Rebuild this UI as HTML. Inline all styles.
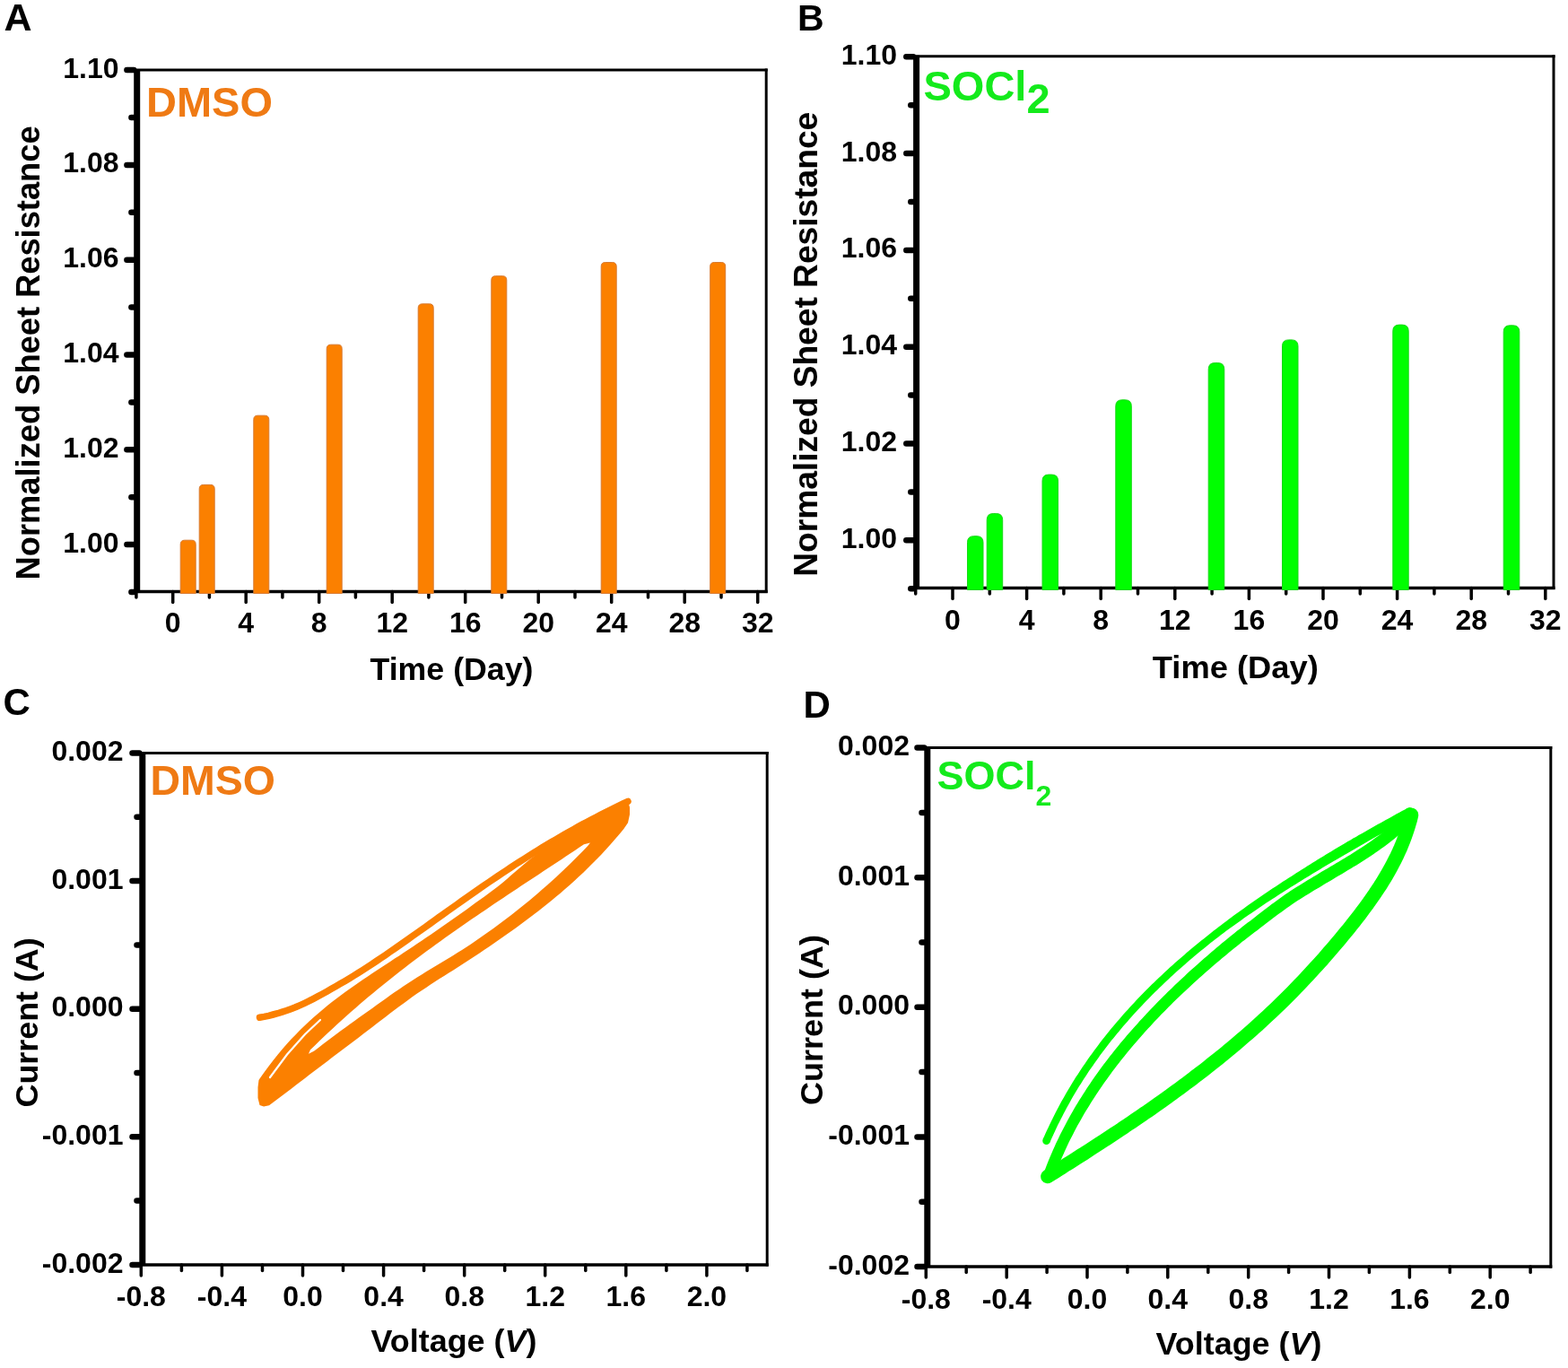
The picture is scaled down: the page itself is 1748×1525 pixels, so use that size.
<!DOCTYPE html>
<html><head><meta charset="utf-8"><title>Figure</title>
<style>html,body{margin:0;padding:0;background:#fff;overflow:hidden;} svg{display:block;}</style>
</head><body>
<svg width="1748" height="1525" viewBox="0 0 1748 1525" font-family="'Liberation Sans', Arial, Helvetica, sans-serif" font-weight="bold">
<rect width="1748" height="1525" fill="#fff"/>
<text x="4.5" y="34.0" font-size="43" text-anchor="start" fill="#000" >A</text>
<line x1="152.7" y1="78.0" x2="854.2" y2="78.0" stroke="#000" stroke-width="3" stroke-linecap="square"/>
<line x1="854.2" y1="78.0" x2="854.2" y2="659.5" stroke="#000" stroke-width="3" stroke-linecap="square"/>
<line x1="150.7" y1="659.5" x2="855.7" y2="659.5" stroke="#000" stroke-width="3.5" stroke-linecap="butt"/>
<circle cx="150.7" cy="659.5" r="2.05" fill="#000"/>
<line x1="152.7" y1="77.0" x2="152.7" y2="660.5" stroke="#000" stroke-width="7" stroke-linecap="butt"/>
<line x1="141.4" y1="607.1" x2="149.2" y2="607.1" stroke="#000" stroke-width="6.5" stroke-linecap="round"/>
<line x1="141.4" y1="501.3" x2="149.2" y2="501.3" stroke="#000" stroke-width="6.5" stroke-linecap="round"/>
<line x1="141.4" y1="395.5" x2="149.2" y2="395.5" stroke="#000" stroke-width="6.5" stroke-linecap="round"/>
<line x1="141.4" y1="289.7" x2="149.2" y2="289.7" stroke="#000" stroke-width="6.5" stroke-linecap="round"/>
<line x1="141.4" y1="183.9" x2="149.2" y2="183.9" stroke="#000" stroke-width="6.5" stroke-linecap="round"/>
<line x1="141.4" y1="78.1" x2="149.2" y2="78.1" stroke="#000" stroke-width="6.5" stroke-linecap="round"/>
<line x1="146.4" y1="660.0" x2="149.2" y2="660.0" stroke="#000" stroke-width="6.5" stroke-linecap="round"/>
<line x1="146.4" y1="554.2" x2="149.2" y2="554.2" stroke="#000" stroke-width="6.5" stroke-linecap="round"/>
<line x1="146.4" y1="448.4" x2="149.2" y2="448.4" stroke="#000" stroke-width="6.5" stroke-linecap="round"/>
<line x1="146.4" y1="342.6" x2="149.2" y2="342.6" stroke="#000" stroke-width="6.5" stroke-linecap="round"/>
<line x1="146.4" y1="236.8" x2="149.2" y2="236.8" stroke="#000" stroke-width="6.5" stroke-linecap="round"/>
<line x1="146.4" y1="131.0" x2="149.2" y2="131.0" stroke="#000" stroke-width="6.5" stroke-linecap="round"/>
<text x="132.5" y="615.5" font-size="32" text-anchor="end" fill="#000" >1.00</text>
<text x="132.5" y="509.7" font-size="32" text-anchor="end" fill="#000" >1.02</text>
<text x="132.5" y="403.9" font-size="32" text-anchor="end" fill="#000" >1.04</text>
<text x="132.5" y="298.1" font-size="32" text-anchor="end" fill="#000" >1.06</text>
<text x="132.5" y="192.3" font-size="32" text-anchor="end" fill="#000" >1.08</text>
<text x="132.5" y="86.5" font-size="32" text-anchor="end" fill="#000" >1.10</text>
<line x1="192.7" y1="659.5" x2="192.7" y2="671.5" stroke="#000" stroke-width="3.5" stroke-linecap="round"/>
<line x1="274.2" y1="659.5" x2="274.2" y2="671.5" stroke="#000" stroke-width="3.5" stroke-linecap="round"/>
<line x1="355.7" y1="659.5" x2="355.7" y2="671.5" stroke="#000" stroke-width="3.5" stroke-linecap="round"/>
<line x1="437.2" y1="659.5" x2="437.2" y2="671.5" stroke="#000" stroke-width="3.5" stroke-linecap="round"/>
<line x1="518.7" y1="659.5" x2="518.7" y2="671.5" stroke="#000" stroke-width="3.5" stroke-linecap="round"/>
<line x1="600.2" y1="659.5" x2="600.2" y2="671.5" stroke="#000" stroke-width="3.5" stroke-linecap="round"/>
<line x1="681.7" y1="659.5" x2="681.7" y2="671.5" stroke="#000" stroke-width="3.5" stroke-linecap="round"/>
<line x1="763.2" y1="659.5" x2="763.2" y2="671.5" stroke="#000" stroke-width="3.5" stroke-linecap="round"/>
<line x1="844.7" y1="659.5" x2="844.7" y2="671.5" stroke="#000" stroke-width="3.5" stroke-linecap="round"/>
<line x1="151.9" y1="659.5" x2="151.9" y2="666.0" stroke="#000" stroke-width="3.5" stroke-linecap="round"/>
<line x1="233.4" y1="659.5" x2="233.4" y2="666.0" stroke="#000" stroke-width="3.5" stroke-linecap="round"/>
<line x1="314.9" y1="659.5" x2="314.9" y2="666.0" stroke="#000" stroke-width="3.5" stroke-linecap="round"/>
<line x1="396.4" y1="659.5" x2="396.4" y2="666.0" stroke="#000" stroke-width="3.5" stroke-linecap="round"/>
<line x1="477.9" y1="659.5" x2="477.9" y2="666.0" stroke="#000" stroke-width="3.5" stroke-linecap="round"/>
<line x1="559.5" y1="659.5" x2="559.5" y2="666.0" stroke="#000" stroke-width="3.5" stroke-linecap="round"/>
<line x1="641.0" y1="659.5" x2="641.0" y2="666.0" stroke="#000" stroke-width="3.5" stroke-linecap="round"/>
<line x1="722.5" y1="659.5" x2="722.5" y2="666.0" stroke="#000" stroke-width="3.5" stroke-linecap="round"/>
<line x1="804.0" y1="659.5" x2="804.0" y2="666.0" stroke="#000" stroke-width="3.5" stroke-linecap="round"/>
<text x="192.7" y="705.3" font-size="32" text-anchor="middle" fill="#000" >0</text>
<text x="274.2" y="705.3" font-size="32" text-anchor="middle" fill="#000" >4</text>
<text x="355.7" y="705.3" font-size="32" text-anchor="middle" fill="#000" >8</text>
<text x="437.2" y="705.3" font-size="32" text-anchor="middle" fill="#000" >12</text>
<text x="518.7" y="705.3" font-size="32" text-anchor="middle" fill="#000" >16</text>
<text x="600.2" y="705.3" font-size="32" text-anchor="middle" fill="#000" >20</text>
<text x="681.7" y="705.3" font-size="32" text-anchor="middle" fill="#000" >24</text>
<text x="763.2" y="705.3" font-size="32" text-anchor="middle" fill="#000" >28</text>
<text x="844.7" y="705.3" font-size="32" text-anchor="middle" fill="#000" >32</text>
<text x="503.5" y="757.5" font-size="35" text-anchor="middle" textLength="182" lengthAdjust="spacingAndGlyphs" fill="#000">Time (Day)</text>
<text transform="translate(44.0,393.4) rotate(-90)" font-size="36" text-anchor="middle" textLength="506" lengthAdjust="spacingAndGlyphs" fill="#000">Normalized Sheet Resistance</text>
<text x="163.0" y="130.0" font-size="47" text-anchor="start" fill="#EF7A14" >DMSO</text>
<path d="M201.2,661.5 L201.2,606.7 Q201.2,602.2 205.8,602.2 L213.8,602.2 Q218.2,602.2 218.2,606.7 L218.2,661.5 Z" fill="#FB8000" stroke="#D87A30" stroke-width="1"/>
<path d="M222.2,661.5 L222.2,544.9 Q222.2,540.4 226.8,540.4 L234.8,540.4 Q239.2,540.4 239.2,544.9 L239.2,661.5 Z" fill="#FB8000" stroke="#D87A30" stroke-width="1"/>
<path d="M282.8,661.5 L282.8,467.7 Q282.8,463.2 287.2,463.2 L295.2,463.2 Q299.8,463.2 299.8,467.7 L299.8,661.5 Z" fill="#FB8000" stroke="#D87A30" stroke-width="1"/>
<path d="M364.2,661.5 L364.2,388.7 Q364.2,384.2 368.8,384.2 L376.8,384.2 Q381.2,384.2 381.2,388.7 L381.2,661.5 Z" fill="#FB8000" stroke="#D87A30" stroke-width="1"/>
<path d="M466.2,661.5 L466.2,343.3 Q466.2,338.8 470.8,338.8 L478.8,338.8 Q483.2,338.8 483.2,343.3 L483.2,661.5 Z" fill="#FB8000" stroke="#D87A30" stroke-width="1"/>
<path d="M547.8,661.5 L547.8,312.2 Q547.8,307.7 552.3,307.7 L560.3,307.7 Q564.8,307.7 564.8,312.2 L564.8,661.5 Z" fill="#FB8000" stroke="#D87A30" stroke-width="1"/>
<path d="M670.2,661.5 L670.2,297.0 Q670.2,292.5 674.7,292.5 L682.7,292.5 Q687.2,292.5 687.2,297.0 L687.2,661.5 Z" fill="#FB8000" stroke="#D87A30" stroke-width="1"/>
<path d="M791.7,661.5 L791.7,297.0 Q791.7,292.5 796.2,292.5 L804.2,292.5 Q808.7,292.5 808.7,297.0 L808.7,661.5 Z" fill="#FB8000" stroke="#D87A30" stroke-width="1"/>
<text x="889.0" y="34.3" font-size="41" text-anchor="start" fill="#000" >B</text>
<line x1="1021.6" y1="62.7" x2="1732.0" y2="62.7" stroke="#000" stroke-width="3" stroke-linecap="square"/>
<line x1="1732.0" y1="62.7" x2="1732.0" y2="655.5" stroke="#000" stroke-width="3" stroke-linecap="square"/>
<line x1="1019.6" y1="655.5" x2="1733.5" y2="655.5" stroke="#000" stroke-width="3.5" stroke-linecap="butt"/>
<circle cx="1019.6" cy="655.5" r="2.05" fill="#000"/>
<line x1="1021.6" y1="61.7" x2="1021.6" y2="656.5" stroke="#000" stroke-width="7" stroke-linecap="butt"/>
<line x1="1010.3" y1="602.3" x2="1018.1" y2="602.3" stroke="#000" stroke-width="6.5" stroke-linecap="round"/>
<line x1="1010.3" y1="494.5" x2="1018.1" y2="494.5" stroke="#000" stroke-width="6.5" stroke-linecap="round"/>
<line x1="1010.3" y1="386.7" x2="1018.1" y2="386.7" stroke="#000" stroke-width="6.5" stroke-linecap="round"/>
<line x1="1010.3" y1="278.9" x2="1018.1" y2="278.9" stroke="#000" stroke-width="6.5" stroke-linecap="round"/>
<line x1="1010.3" y1="171.1" x2="1018.1" y2="171.1" stroke="#000" stroke-width="6.5" stroke-linecap="round"/>
<line x1="1010.3" y1="63.3" x2="1018.1" y2="63.3" stroke="#000" stroke-width="6.5" stroke-linecap="round"/>
<line x1="1015.3" y1="656.2" x2="1018.1" y2="656.2" stroke="#000" stroke-width="6.5" stroke-linecap="round"/>
<line x1="1015.3" y1="548.4" x2="1018.1" y2="548.4" stroke="#000" stroke-width="6.5" stroke-linecap="round"/>
<line x1="1015.3" y1="440.6" x2="1018.1" y2="440.6" stroke="#000" stroke-width="6.5" stroke-linecap="round"/>
<line x1="1015.3" y1="332.8" x2="1018.1" y2="332.8" stroke="#000" stroke-width="6.5" stroke-linecap="round"/>
<line x1="1015.3" y1="225.0" x2="1018.1" y2="225.0" stroke="#000" stroke-width="6.5" stroke-linecap="round"/>
<line x1="1015.3" y1="117.2" x2="1018.1" y2="117.2" stroke="#000" stroke-width="6.5" stroke-linecap="round"/>
<text x="1000.0" y="610.7" font-size="32" text-anchor="end" fill="#000" >1.00</text>
<text x="1000.0" y="502.9" font-size="32" text-anchor="end" fill="#000" >1.02</text>
<text x="1000.0" y="395.1" font-size="32" text-anchor="end" fill="#000" >1.04</text>
<text x="1000.0" y="287.3" font-size="32" text-anchor="end" fill="#000" >1.06</text>
<text x="1000.0" y="179.5" font-size="32" text-anchor="end" fill="#000" >1.08</text>
<text x="1000.0" y="71.7" font-size="32" text-anchor="end" fill="#000" >1.10</text>
<line x1="1062.0" y1="655.5" x2="1062.0" y2="667.5" stroke="#000" stroke-width="3.5" stroke-linecap="round"/>
<line x1="1144.6" y1="655.5" x2="1144.6" y2="667.5" stroke="#000" stroke-width="3.5" stroke-linecap="round"/>
<line x1="1227.2" y1="655.5" x2="1227.2" y2="667.5" stroke="#000" stroke-width="3.5" stroke-linecap="round"/>
<line x1="1309.8" y1="655.5" x2="1309.8" y2="667.5" stroke="#000" stroke-width="3.5" stroke-linecap="round"/>
<line x1="1392.4" y1="655.5" x2="1392.4" y2="667.5" stroke="#000" stroke-width="3.5" stroke-linecap="round"/>
<line x1="1475.0" y1="655.5" x2="1475.0" y2="667.5" stroke="#000" stroke-width="3.5" stroke-linecap="round"/>
<line x1="1557.6" y1="655.5" x2="1557.6" y2="667.5" stroke="#000" stroke-width="3.5" stroke-linecap="round"/>
<line x1="1640.2" y1="655.5" x2="1640.2" y2="667.5" stroke="#000" stroke-width="3.5" stroke-linecap="round"/>
<line x1="1722.8" y1="655.5" x2="1722.8" y2="667.5" stroke="#000" stroke-width="3.5" stroke-linecap="round"/>
<line x1="1020.7" y1="655.5" x2="1020.7" y2="662.0" stroke="#000" stroke-width="3.5" stroke-linecap="round"/>
<line x1="1103.3" y1="655.5" x2="1103.3" y2="662.0" stroke="#000" stroke-width="3.5" stroke-linecap="round"/>
<line x1="1185.9" y1="655.5" x2="1185.9" y2="662.0" stroke="#000" stroke-width="3.5" stroke-linecap="round"/>
<line x1="1268.5" y1="655.5" x2="1268.5" y2="662.0" stroke="#000" stroke-width="3.5" stroke-linecap="round"/>
<line x1="1351.1" y1="655.5" x2="1351.1" y2="662.0" stroke="#000" stroke-width="3.5" stroke-linecap="round"/>
<line x1="1433.7" y1="655.5" x2="1433.7" y2="662.0" stroke="#000" stroke-width="3.5" stroke-linecap="round"/>
<line x1="1516.3" y1="655.5" x2="1516.3" y2="662.0" stroke="#000" stroke-width="3.5" stroke-linecap="round"/>
<line x1="1598.9" y1="655.5" x2="1598.9" y2="662.0" stroke="#000" stroke-width="3.5" stroke-linecap="round"/>
<line x1="1681.5" y1="655.5" x2="1681.5" y2="662.0" stroke="#000" stroke-width="3.5" stroke-linecap="round"/>
<text x="1062.0" y="702.1" font-size="32" text-anchor="middle" fill="#000" >0</text>
<text x="1144.6" y="702.1" font-size="32" text-anchor="middle" fill="#000" >4</text>
<text x="1227.2" y="702.1" font-size="32" text-anchor="middle" fill="#000" >8</text>
<text x="1309.8" y="702.1" font-size="32" text-anchor="middle" fill="#000" >12</text>
<text x="1392.4" y="702.1" font-size="32" text-anchor="middle" fill="#000" >16</text>
<text x="1475.0" y="702.1" font-size="32" text-anchor="middle" fill="#000" >20</text>
<text x="1557.6" y="702.1" font-size="32" text-anchor="middle" fill="#000" >24</text>
<text x="1640.2" y="702.1" font-size="32" text-anchor="middle" fill="#000" >28</text>
<text x="1722.8" y="702.1" font-size="32" text-anchor="middle" fill="#000" >32</text>
<text x="1377.3" y="755.6" font-size="35" text-anchor="middle" textLength="185" lengthAdjust="spacingAndGlyphs" fill="#000">Time (Day)</text>
<text transform="translate(911.4,383.8) rotate(-90)" font-size="37" text-anchor="middle" textLength="518" lengthAdjust="spacingAndGlyphs" fill="#000">Normalized Sheet Resistance</text>
<text x="1029.5" y="112.4" font-size="47" fill="#14EA1C">SOCl<tspan dy="13.7">2</tspan></text>
<path d="M1078.5,657.5 L1078.5,604.7 Q1078.5,597.7 1085.5,597.7 L1089.0,597.7 Q1096.0,597.7 1096.0,604.7 L1096.0,657.5 Z" fill="#00FE00" stroke="#18D818" stroke-width="1"/>
<path d="M1100.2,657.5 L1100.2,579.5 Q1100.2,572.5 1107.2,572.5 L1110.7,572.5 Q1117.7,572.5 1117.7,579.5 L1117.7,657.5 Z" fill="#00FE00" stroke="#18D818" stroke-width="1"/>
<path d="M1162.0,657.5 L1162.0,536.1 Q1162.0,529.1 1169.0,529.1 L1172.5,529.1 Q1179.5,529.1 1179.5,536.1 L1179.5,657.5 Z" fill="#00FE00" stroke="#18D818" stroke-width="1"/>
<path d="M1243.8,657.5 L1243.8,452.8 Q1243.8,445.8 1250.8,445.8 L1254.3,445.8 Q1261.3,445.8 1261.3,452.8 L1261.3,657.5 Z" fill="#00FE00" stroke="#18D818" stroke-width="1"/>
<path d="M1347.2,657.5 L1347.2,411.6 Q1347.2,404.6 1354.2,404.6 L1357.8,404.6 Q1364.8,404.6 1364.8,411.6 L1364.8,657.5 Z" fill="#00FE00" stroke="#18D818" stroke-width="1"/>
<path d="M1429.5,657.5 L1429.5,385.9 Q1429.5,378.9 1436.5,378.9 L1440.0,378.9 Q1447.0,378.9 1447.0,385.9 L1447.0,657.5 Z" fill="#00FE00" stroke="#18D818" stroke-width="1"/>
<path d="M1552.8,657.5 L1552.8,369.1 Q1552.8,362.1 1559.8,362.1 L1563.2,362.1 Q1570.2,362.1 1570.2,369.1 L1570.2,657.5 Z" fill="#00FE00" stroke="#18D818" stroke-width="1"/>
<path d="M1676.2,657.5 L1676.2,369.8 Q1676.2,362.8 1683.2,362.8 L1686.8,362.8 Q1693.8,362.8 1693.8,369.8 L1693.8,657.5 Z" fill="#00FE00" stroke="#18D818" stroke-width="1"/>
<text x="3.5" y="797.0" font-size="42" text-anchor="start" fill="#000" >C</text>
<line x1="158.8" y1="839.5" x2="855.2" y2="839.5" stroke="#000" stroke-width="3" stroke-linecap="square"/>
<line x1="855.2" y1="839.5" x2="855.2" y2="1410.0" stroke="#000" stroke-width="3" stroke-linecap="square"/>
<line x1="156.8" y1="1410.0" x2="856.7" y2="1410.0" stroke="#000" stroke-width="3.5" stroke-linecap="butt"/>
<circle cx="156.8" cy="1410.0" r="2.05" fill="#000"/>
<line x1="158.8" y1="838.5" x2="158.8" y2="1411.0" stroke="#000" stroke-width="7" stroke-linecap="butt"/>
<line x1="147.5" y1="839.5" x2="155.3" y2="839.5" stroke="#000" stroke-width="6.5" stroke-linecap="round"/>
<line x1="147.5" y1="982.1" x2="155.3" y2="982.1" stroke="#000" stroke-width="6.5" stroke-linecap="round"/>
<line x1="147.5" y1="1124.7" x2="155.3" y2="1124.7" stroke="#000" stroke-width="6.5" stroke-linecap="round"/>
<line x1="147.5" y1="1267.3" x2="155.3" y2="1267.3" stroke="#000" stroke-width="6.5" stroke-linecap="round"/>
<line x1="147.5" y1="1409.9" x2="155.3" y2="1409.9" stroke="#000" stroke-width="6.5" stroke-linecap="round"/>
<line x1="152.5" y1="910.8" x2="155.3" y2="910.8" stroke="#000" stroke-width="6.5" stroke-linecap="round"/>
<line x1="152.5" y1="1053.4" x2="155.3" y2="1053.4" stroke="#000" stroke-width="6.5" stroke-linecap="round"/>
<line x1="152.5" y1="1196.0" x2="155.3" y2="1196.0" stroke="#000" stroke-width="6.5" stroke-linecap="round"/>
<line x1="152.5" y1="1338.6" x2="155.3" y2="1338.6" stroke="#000" stroke-width="6.5" stroke-linecap="round"/>
<text x="137.5" y="848.1" font-size="32" text-anchor="end" fill="#000" >0.002</text>
<text x="137.5" y="990.7" font-size="32" text-anchor="end" fill="#000" >0.001</text>
<text x="137.5" y="1133.3" font-size="32" text-anchor="end" fill="#000" >0.000</text>
<text x="137.5" y="1275.9" font-size="32" text-anchor="end" fill="#000" >-0.001</text>
<text x="137.5" y="1418.5" font-size="32" text-anchor="end" fill="#000" >-0.002</text>
<line x1="157.3" y1="1410.0" x2="157.3" y2="1422.0" stroke="#000" stroke-width="3.5" stroke-linecap="round"/>
<line x1="247.4" y1="1410.0" x2="247.4" y2="1422.0" stroke="#000" stroke-width="3.5" stroke-linecap="round"/>
<line x1="337.5" y1="1410.0" x2="337.5" y2="1422.0" stroke="#000" stroke-width="3.5" stroke-linecap="round"/>
<line x1="427.6" y1="1410.0" x2="427.6" y2="1422.0" stroke="#000" stroke-width="3.5" stroke-linecap="round"/>
<line x1="517.7" y1="1410.0" x2="517.7" y2="1422.0" stroke="#000" stroke-width="3.5" stroke-linecap="round"/>
<line x1="607.7" y1="1410.0" x2="607.7" y2="1422.0" stroke="#000" stroke-width="3.5" stroke-linecap="round"/>
<line x1="697.8" y1="1410.0" x2="697.8" y2="1422.0" stroke="#000" stroke-width="3.5" stroke-linecap="round"/>
<line x1="787.9" y1="1410.0" x2="787.9" y2="1422.0" stroke="#000" stroke-width="3.5" stroke-linecap="round"/>
<line x1="202.4" y1="1410.0" x2="202.4" y2="1416.5" stroke="#000" stroke-width="3.5" stroke-linecap="round"/>
<line x1="292.5" y1="1410.0" x2="292.5" y2="1416.5" stroke="#000" stroke-width="3.5" stroke-linecap="round"/>
<line x1="382.5" y1="1410.0" x2="382.5" y2="1416.5" stroke="#000" stroke-width="3.5" stroke-linecap="round"/>
<line x1="472.6" y1="1410.0" x2="472.6" y2="1416.5" stroke="#000" stroke-width="3.5" stroke-linecap="round"/>
<line x1="562.7" y1="1410.0" x2="562.7" y2="1416.5" stroke="#000" stroke-width="3.5" stroke-linecap="round"/>
<line x1="652.8" y1="1410.0" x2="652.8" y2="1416.5" stroke="#000" stroke-width="3.5" stroke-linecap="round"/>
<line x1="742.9" y1="1410.0" x2="742.9" y2="1416.5" stroke="#000" stroke-width="3.5" stroke-linecap="round"/>
<line x1="832.9" y1="1410.0" x2="832.9" y2="1416.5" stroke="#000" stroke-width="3.5" stroke-linecap="round"/>
<text x="157.3" y="1455.6" font-size="32" text-anchor="middle" fill="#000" >-0.8</text>
<text x="247.4" y="1455.6" font-size="32" text-anchor="middle" fill="#000" >-0.4</text>
<text x="337.5" y="1455.6" font-size="32" text-anchor="middle" fill="#000" >0.0</text>
<text x="427.6" y="1455.6" font-size="32" text-anchor="middle" fill="#000" >0.4</text>
<text x="517.7" y="1455.6" font-size="32" text-anchor="middle" fill="#000" >0.8</text>
<text x="607.7" y="1455.6" font-size="32" text-anchor="middle" fill="#000" >1.2</text>
<text x="697.8" y="1455.6" font-size="32" text-anchor="middle" fill="#000" >1.6</text>
<text x="787.9" y="1455.6" font-size="32" text-anchor="middle" fill="#000" >2.0</text>
<text x="506" y="1507" font-size="35" text-anchor="middle" textLength="185" lengthAdjust="spacingAndGlyphs" fill="#000">Voltage (<tspan font-style="italic">V</tspan>)</text>
<text transform="translate(42.4,1139.9) rotate(-90)" font-size="35" text-anchor="middle" textLength="189" lengthAdjust="spacingAndGlyphs" fill="#000">Current (A)</text>
<text x="167.5" y="885.5" font-size="46.5" text-anchor="start" fill="#EF7A14" >DMSO</text>
<text x="895.5" y="799.6" font-size="42" text-anchor="start" fill="#000" >D</text>
<line x1="1033.8" y1="833.6" x2="1728.8" y2="833.6" stroke="#000" stroke-width="3" stroke-linecap="square"/>
<line x1="1728.8" y1="833.6" x2="1728.8" y2="1412.0" stroke="#000" stroke-width="3" stroke-linecap="square"/>
<line x1="1031.8" y1="1412.0" x2="1730.3" y2="1412.0" stroke="#000" stroke-width="3.5" stroke-linecap="butt"/>
<circle cx="1031.8" cy="1412.0" r="2.05" fill="#000"/>
<line x1="1033.8" y1="832.6" x2="1033.8" y2="1413.0" stroke="#000" stroke-width="7" stroke-linecap="butt"/>
<line x1="1022.5" y1="833.6" x2="1030.3" y2="833.6" stroke="#000" stroke-width="6.5" stroke-linecap="round"/>
<line x1="1022.5" y1="978.2" x2="1030.3" y2="978.2" stroke="#000" stroke-width="6.5" stroke-linecap="round"/>
<line x1="1022.5" y1="1122.8" x2="1030.3" y2="1122.8" stroke="#000" stroke-width="6.5" stroke-linecap="round"/>
<line x1="1022.5" y1="1267.4" x2="1030.3" y2="1267.4" stroke="#000" stroke-width="6.5" stroke-linecap="round"/>
<line x1="1022.5" y1="1412.0" x2="1030.3" y2="1412.0" stroke="#000" stroke-width="6.5" stroke-linecap="round"/>
<line x1="1027.5" y1="905.9" x2="1030.3" y2="905.9" stroke="#000" stroke-width="6.5" stroke-linecap="round"/>
<line x1="1027.5" y1="1050.5" x2="1030.3" y2="1050.5" stroke="#000" stroke-width="6.5" stroke-linecap="round"/>
<line x1="1027.5" y1="1195.1" x2="1030.3" y2="1195.1" stroke="#000" stroke-width="6.5" stroke-linecap="round"/>
<line x1="1027.5" y1="1339.7" x2="1030.3" y2="1339.7" stroke="#000" stroke-width="6.5" stroke-linecap="round"/>
<text x="1014.0" y="842.2" font-size="32" text-anchor="end" fill="#000" >0.002</text>
<text x="1014.0" y="986.8" font-size="32" text-anchor="end" fill="#000" >0.001</text>
<text x="1014.0" y="1131.4" font-size="32" text-anchor="end" fill="#000" >0.000</text>
<text x="1014.0" y="1276.0" font-size="32" text-anchor="end" fill="#000" >-0.001</text>
<text x="1014.0" y="1420.6" font-size="32" text-anchor="end" fill="#000" >-0.002</text>
<line x1="1032.3" y1="1412.0" x2="1032.3" y2="1424.0" stroke="#000" stroke-width="3.5" stroke-linecap="round"/>
<line x1="1122.2" y1="1412.0" x2="1122.2" y2="1424.0" stroke="#000" stroke-width="3.5" stroke-linecap="round"/>
<line x1="1212.0" y1="1412.0" x2="1212.0" y2="1424.0" stroke="#000" stroke-width="3.5" stroke-linecap="round"/>
<line x1="1301.8" y1="1412.0" x2="1301.8" y2="1424.0" stroke="#000" stroke-width="3.5" stroke-linecap="round"/>
<line x1="1391.7" y1="1412.0" x2="1391.7" y2="1424.0" stroke="#000" stroke-width="3.5" stroke-linecap="round"/>
<line x1="1481.5" y1="1412.0" x2="1481.5" y2="1424.0" stroke="#000" stroke-width="3.5" stroke-linecap="round"/>
<line x1="1571.4" y1="1412.0" x2="1571.4" y2="1424.0" stroke="#000" stroke-width="3.5" stroke-linecap="round"/>
<line x1="1661.2" y1="1412.0" x2="1661.2" y2="1424.0" stroke="#000" stroke-width="3.5" stroke-linecap="round"/>
<line x1="1077.2" y1="1412.0" x2="1077.2" y2="1418.5" stroke="#000" stroke-width="3.5" stroke-linecap="round"/>
<line x1="1167.1" y1="1412.0" x2="1167.1" y2="1418.5" stroke="#000" stroke-width="3.5" stroke-linecap="round"/>
<line x1="1256.9" y1="1412.0" x2="1256.9" y2="1418.5" stroke="#000" stroke-width="3.5" stroke-linecap="round"/>
<line x1="1346.8" y1="1412.0" x2="1346.8" y2="1418.5" stroke="#000" stroke-width="3.5" stroke-linecap="round"/>
<line x1="1436.6" y1="1412.0" x2="1436.6" y2="1418.5" stroke="#000" stroke-width="3.5" stroke-linecap="round"/>
<line x1="1526.4" y1="1412.0" x2="1526.4" y2="1418.5" stroke="#000" stroke-width="3.5" stroke-linecap="round"/>
<line x1="1616.3" y1="1412.0" x2="1616.3" y2="1418.5" stroke="#000" stroke-width="3.5" stroke-linecap="round"/>
<line x1="1706.1" y1="1412.0" x2="1706.1" y2="1418.5" stroke="#000" stroke-width="3.5" stroke-linecap="round"/>
<text x="1032.3" y="1458.6" font-size="32" text-anchor="middle" fill="#000" >-0.8</text>
<text x="1122.2" y="1458.6" font-size="32" text-anchor="middle" fill="#000" >-0.4</text>
<text x="1212.0" y="1458.6" font-size="32" text-anchor="middle" fill="#000" >0.0</text>
<text x="1301.8" y="1458.6" font-size="32" text-anchor="middle" fill="#000" >0.4</text>
<text x="1391.7" y="1458.6" font-size="32" text-anchor="middle" fill="#000" >0.8</text>
<text x="1481.5" y="1458.6" font-size="32" text-anchor="middle" fill="#000" >1.2</text>
<text x="1571.4" y="1458.6" font-size="32" text-anchor="middle" fill="#000" >1.6</text>
<text x="1661.2" y="1458.6" font-size="32" text-anchor="middle" fill="#000" >2.0</text>
<text x="1381" y="1510" font-size="35" text-anchor="middle" textLength="185" lengthAdjust="spacingAndGlyphs" fill="#000">Voltage (<tspan font-style="italic">V</tspan>)</text>
<text transform="translate(917,1137.1) rotate(-90)" font-size="35" text-anchor="middle" textLength="190" lengthAdjust="spacingAndGlyphs" fill="#000">Current (A)</text>
<text x="1044.5" y="879.9" font-size="45" fill="#14EA1C">SOCl<tspan dy="18" font-size="32">2</tspan></text>
<path d="M290.0,1201.8 L295.0,1194.7 L300.0,1187.9 L305.0,1181.4 L310.0,1175.2 L315.0,1169.3 L320.0,1163.6 L325.0,1158.1 L330.0,1152.9 L335.0,1147.8 L340.0,1143.0 L345.0,1138.3 L350.0,1133.8 L355.0,1129.4 L360.0,1125.2 L365.0,1121.1 L370.0,1117.1 L375.0,1113.2 L380.0,1109.4 L385.0,1105.8 L390.0,1102.2 L395.0,1098.7 L400.0,1095.2 L405.0,1091.8 L410.0,1088.4 L415.0,1085.1 L420.0,1081.7 L425.0,1078.4 L430.0,1075.2 L435.0,1071.9 L440.0,1068.6 L445.0,1065.4 L450.0,1062.1 L455.0,1058.8 L460.0,1055.4 L465.0,1052.1 L470.0,1048.7 L475.0,1045.3 L480.0,1041.9 L485.0,1038.5 L490.0,1035.1 L495.0,1031.6 L500.0,1028.1 L505.0,1024.6 L510.0,1021.0 L515.0,1017.4 L520.0,1013.9 L525.0,1010.3 L530.0,1006.6 L535.0,1003.0 L540.0,999.4 L545.0,995.7 L550.0,992.1 L555.0,988.3 L560.0,984.2 L565.0,979.9 L570.0,975.6 L575.0,971.2 L580.0,966.9 L585.0,962.7 L590.0,958.6 L595.0,954.7 L600.0,951.1 L605.0,947.6 L610.0,944.5 L615.0,941.5 L620.0,938.6 L625.0,935.6 L630.0,932.8 L635.0,929.9 L640.0,927.1 L645.0,924.4 L650.0,921.6 L655.0,919.0 L660.0,916.3 L665.0,913.7 L670.0,911.1 L675.0,908.6 L680.0,906.1 L685.0,903.6 L690.0,901.2 L695.0,898.8 L700.5,894.5 L702.0,900.0 L702.0,908.0 L700.0,917.3 L695.0,924.5 L690.0,930.5 L685.0,936.3 L680.0,942.0 L675.0,947.5 L670.0,952.9 L665.0,958.1 L660.0,963.1 L655.0,968.1 L650.0,972.9 L645.0,977.6 L640.0,982.2 L635.0,986.7 L630.0,991.1 L625.0,995.4 L620.0,999.6 L615.0,1003.7 L610.0,1007.8 L605.0,1011.8 L600.0,1015.7 L595.0,1019.5 L590.0,1023.3 L585.0,1027.1 L580.0,1030.7 L575.0,1034.4 L570.0,1038.0 L565.0,1041.5 L560.0,1045.1 L555.0,1048.6 L550.0,1052.0 L545.0,1055.4 L540.0,1058.8 L535.0,1062.2 L530.0,1065.5 L525.0,1068.8 L520.0,1072.1 L515.0,1075.3 L510.0,1078.5 L505.0,1081.7 L500.0,1084.8 L495.0,1088.0 L490.0,1091.1 L485.0,1094.3 L480.0,1097.6 L475.0,1100.9 L470.0,1104.2 L465.0,1107.6 L460.0,1111.1 L455.0,1114.7 L450.0,1118.4 L445.0,1122.1 L440.0,1125.8 L435.0,1129.6 L430.0,1133.4 L425.0,1137.3 L420.0,1141.1 L415.0,1144.9 L410.0,1148.8 L405.0,1152.6 L400.0,1156.4 L395.0,1160.2 L390.0,1164.0 L385.0,1167.7 L380.0,1171.5 L375.0,1175.3 L370.0,1179.1 L365.0,1182.9 L360.0,1186.7 L355.0,1190.5 L350.0,1194.3 L345.0,1198.1 L340.0,1202.0 L335.0,1205.8 L330.0,1209.6 L325.0,1213.4 L320.0,1217.2 L315.0,1220.9 L310.0,1224.7 L305.0,1228.5 L300.0,1232.2 L294.0,1233.5 L289.5,1232.0 L287.5,1224.0 L287.5,1212.0 L288.5,1204.0 Z M346.0,1170.3 L351.0,1165.4 L356.0,1160.5 L361.0,1155.8 L366.0,1151.0 L371.0,1146.4 L376.0,1141.8 L381.0,1137.2 L386.0,1132.8 L391.0,1128.3 L396.0,1123.9 L401.0,1119.6 L406.0,1115.3 L411.0,1111.1 L416.0,1106.9 L421.0,1102.8 L426.0,1098.7 L431.0,1094.7 L436.0,1090.7 L441.0,1086.7 L446.0,1082.8 L451.0,1078.9 L456.0,1075.1 L461.0,1071.3 L466.0,1067.5 L471.0,1063.8 L476.0,1060.1 L481.0,1056.4 L486.0,1052.8 L491.0,1049.2 L496.0,1045.6 L501.0,1042.0 L506.0,1038.5 L511.0,1035.0 L516.0,1031.5 L521.0,1028.0 L526.0,1024.6 L531.0,1021.2 L536.0,1017.7 L541.0,1014.4 L546.0,1011.0 L551.0,1007.6 L556.0,1004.3 L561.0,1000.9 L566.0,997.6 L571.0,994.3 L576.0,990.9 L581.0,987.6 L586.0,984.3 L591.0,981.0 L596.0,977.7 L601.0,974.4 L606.0,971.1 L611.0,967.8 L616.0,964.5 L621.0,961.2 L626.0,957.9 L631.0,954.6 L636.0,951.2 L641.0,947.9 L646.0,944.6 L651.0,941.2 L658.0,939.6 L655.0,943.3 L650.0,948.5 L645.0,953.6 L640.0,958.6 L635.0,963.5 L630.0,968.3 L625.0,973.1 L620.0,977.7 L615.0,982.3 L610.0,986.7 L605.0,991.1 L600.0,995.4 L595.0,999.7 L590.0,1003.9 L585.0,1008.0 L580.0,1012.0 L575.0,1016.0 L570.0,1019.9 L565.0,1023.7 L560.0,1027.5 L555.0,1031.3 L550.0,1035.0 L545.0,1038.6 L540.0,1042.1 L535.0,1045.6 L530.0,1049.1 L525.0,1052.5 L520.0,1055.8 L515.0,1059.0 L510.0,1062.1 L505.0,1065.2 L500.0,1068.2 L495.0,1071.2 L490.0,1074.2 L485.0,1077.2 L480.0,1080.2 L475.0,1083.3 L470.0,1086.4 L465.0,1089.5 L460.0,1092.7 L455.0,1096.0 L450.0,1099.3 L445.0,1102.7 L440.0,1106.1 L435.0,1109.6 L430.0,1113.2 L425.0,1116.7 L420.0,1120.3 L415.0,1123.9 L410.0,1127.5 L405.0,1131.0 L400.0,1134.6 L395.0,1138.2 L390.0,1141.8 L385.0,1145.4 L380.0,1149.0 L375.0,1152.7 L370.0,1156.4 L365.0,1160.2 L360.0,1164.0 L355.0,1167.9 L350.0,1171.8 L344.0,1174.8 Z" fill="#FB8000" fill-rule="evenodd"/>
<path d="M301,1201 L320,1175.5 L340,1153 L357,1137" fill="none" stroke="#fff" stroke-width="2.2" stroke-linecap="round"/>
<path d="M289.5,1134.3 L294.5,1133.4 L299.5,1132.3 L304.5,1131.0 L309.5,1129.7 L314.5,1128.1 L319.5,1126.5 L324.5,1124.7 L329.5,1122.8 L334.5,1120.6 L339.5,1118.3 L344.5,1115.9 L349.5,1113.3 L354.5,1110.7 L359.5,1108.0 L364.5,1105.2 L369.5,1102.3 L374.5,1099.5 L379.5,1096.6 L384.5,1093.7 L389.5,1090.7 L394.5,1087.6 L399.5,1084.5 L404.5,1081.3 L409.5,1078.1 L414.5,1074.8 L419.5,1071.5 L424.5,1068.2 L429.5,1064.8 L434.5,1061.3 L439.5,1057.9 L444.5,1054.4 L449.5,1050.9 L454.5,1047.4 L459.5,1043.8 L464.5,1040.3 L469.5,1036.7 L474.5,1033.2 L479.5,1029.6 L484.5,1026.0 L489.5,1022.4 L494.5,1018.9 L499.5,1015.3 L504.5,1011.7 L509.5,1008.2 L514.5,1004.6 L519.5,1001.1 L524.5,997.6 L529.5,994.1 L534.5,990.6 L539.5,987.2 L544.5,983.7 L549.5,980.3 L554.5,977.0 L559.5,973.6 L564.5,970.3 L569.5,967.0 L574.5,963.7 L579.5,960.5 L584.5,957.3 L589.5,954.1 L594.5,951.0 L599.5,947.9 L604.5,944.8 L609.5,941.8 L614.5,938.8 L619.5,935.9 L624.5,932.9 L629.5,930.1 L634.5,927.2 L639.5,924.4 L644.5,921.6 L649.5,918.9 L654.5,916.2 L659.5,913.6 L664.5,911.0 L669.5,908.4 L674.5,905.8 L679.5,903.3 L684.5,900.8 L689.5,898.4 L694.5,896.0 L699.5,893.6 L700.0,893.4" fill="none" stroke="#FB8000" stroke-width="7.5" stroke-linecap="round" stroke-linejoin="round"/>
<path d="M1167.9,1311.5 L1172.0,1308.9 L1176.2,1306.3 L1180.3,1303.7 L1184.5,1301.1 L1188.6,1298.4 L1192.8,1295.8 L1196.9,1293.2 L1201.1,1290.5 L1205.2,1287.9 L1209.4,1285.3 L1213.5,1282.6 L1217.6,1279.9 L1221.7,1277.3 L1225.9,1274.6 L1230.0,1271.9 L1234.1,1269.2 L1238.2,1266.5 L1242.3,1263.8 L1246.4,1261.1 L1250.5,1258.4 L1254.5,1255.6 L1258.6,1252.9 L1262.7,1250.2 L1266.7,1247.4 L1270.8,1244.6 L1274.8,1241.8 L1278.9,1239.1 L1282.9,1236.3 L1286.9,1233.4 L1290.9,1230.6 L1294.9,1227.8 L1298.9,1224.9 L1302.9,1222.1 L1306.8,1219.2 L1310.8,1216.3 L1314.8,1213.4 L1318.7,1210.5 L1322.6,1207.6 L1326.5,1204.7 L1330.5,1201.7 L1334.3,1198.7 L1338.2,1195.8 L1342.1,1192.8 L1346.0,1189.7 L1349.8,1186.7 L1353.6,1183.7 L1357.5,1180.6 L1361.3,1177.5 L1365.1,1174.5 L1368.8,1171.3 L1372.6,1168.2 L1376.4,1165.1 L1380.1,1161.9 L1383.8,1158.7 L1387.5,1155.5 L1391.2,1152.3 L1394.9,1149.1 L1398.6,1145.8 L1402.2,1142.6 L1405.8,1139.3 L1409.4,1135.9 L1413.0,1132.6 L1416.6,1129.3 L1420.2,1125.9 L1423.7,1122.5 L1427.2,1119.1 L1430.8,1115.6 L1434.2,1112.2 L1437.7,1108.7 L1441.2,1105.2 L1444.6,1101.7 L1448.0,1098.1 L1451.4,1094.6 L1454.8,1091.0 L1458.2,1087.4 L1461.5,1083.8 L1464.9,1080.1 L1468.2,1076.5 L1471.5,1072.8 L1474.8,1069.2 L1478.0,1065.5 L1481.3,1061.7 L1484.5,1058.0 L1487.7,1054.3 L1490.9,1050.5 L1494.1,1046.7 L1497.2,1042.9 L1500.4,1039.1 L1503.5,1035.3 L1506.5,1031.5 L1509.6,1027.6 L1512.6,1023.8 L1515.6,1019.9 L1518.6,1015.9 L1521.5,1012.0 L1524.4,1008.1 L1527.2,1004.1 L1530.0,1000.1 L1532.8,996.1 L1535.5,992.0 L1538.2,988.0 L1540.8,983.9 L1543.3,979.7 L1545.8,975.6 L1548.2,971.4 L1550.5,967.2 L1552.8,962.9 L1555.0,958.6 L1557.2,954.3 L1559.2,949.9 L1561.2,945.5 L1563.0,941.1 L1564.8,936.6 L1566.5,932.0 L1568.1,927.5 L1569.6,922.8 L1571.0,918.2 L1572.4,913.5 L1573.5,908.7" fill="none" stroke="#00FE00" stroke-width="15.5" stroke-linecap="round" stroke-linejoin="round"/>
<path d="M1174.6,1313.7 L1175.9,1310.3 L1177.1,1306.9 L1178.4,1303.5 L1179.8,1300.2 L1181.1,1296.8 L1182.5,1293.5 L1183.9,1290.2 L1185.4,1286.9 L1186.9,1283.6 L1188.4,1280.3 L1189.9,1277.1 L1191.4,1273.8 L1193.0,1270.6 L1194.6,1267.4 L1196.3,1264.2 L1197.9,1261.0 L1199.6,1257.8 L1201.3,1254.6 L1203.1,1251.5 L1204.8,1248.4 L1206.6,1245.2 L1208.4,1242.1 L1210.2,1239.0 L1212.1,1235.9 L1214.0,1232.9 L1215.9,1229.8 L1217.8,1226.8 L1219.8,1223.7 L1221.7,1220.7 L1223.7,1217.7 L1225.7,1214.7 L1227.8,1211.7 L1229.8,1208.8 L1231.9,1205.8 L1234.0,1202.9 L1236.1,1199.9 L1238.3,1197.0 L1240.4,1194.1 L1242.6,1191.2 L1244.8,1188.3 L1247.0,1185.5 L1249.3,1182.6 L1251.5,1179.8 L1253.8,1176.9 L1256.1,1174.1 L1258.4,1171.3 L1260.7,1168.5 L1263.0,1165.7 L1265.4,1163.0 L1267.8,1160.2 L1270.2,1157.4 L1272.6,1154.7 L1275.0,1152.0 L1277.4,1149.3 L1279.9,1146.6 L1282.4,1143.9 L1284.8,1141.2 L1287.3,1138.5 L1289.8,1135.9 L1292.4,1133.2 L1294.9,1130.6 L1297.5,1128.0 L1300.0,1125.4 L1302.6,1122.8 L1305.2,1120.2 L1307.8,1117.6 L1310.4,1115.1 L1313.0,1112.5 L1315.7,1110.0 L1318.3,1107.5 L1321.0,1104.9 L1323.7,1102.4 L1326.4,1100.0 L1329.0,1097.5 L1331.7,1095.0 L1334.5,1092.5 L1337.2,1090.1 L1339.9,1087.7 L1342.6,1085.2 L1345.4,1082.8 L1348.1,1080.4 L1350.9,1078.0 L1353.7,1075.6 L1356.4,1073.2 L1359.2,1070.9 L1362.0,1068.5 L1364.8,1066.2 L1367.6,1063.9 L1370.4,1061.5 L1373.2,1059.2 L1376.0,1056.9 L1378.9,1054.7 L1381.7,1052.4 L1384.5,1050.1 L1387.4,1047.9 L1390.2,1045.7 L1393.1,1043.5 L1396.0,1041.3 L1398.9,1039.1 L1401.8,1036.9 L1404.8,1034.6 L1407.8,1032.3 L1410.7,1030.0 L1413.6,1027.7 L1416.6,1025.5 L1419.5,1023.3 L1422.5,1021.0 L1425.5,1018.8 L1428.5,1016.7 L1431.5,1014.5 L1434.5,1012.3 L1437.5,1010.2 L1440.6,1008.1 L1443.5,1006.0 L1446.5,1004.1 L1449.5,1002.2 L1452.6,1000.3 L1455.7,998.3 L1458.8,996.4 L1461.9,994.5 L1465.0,992.6 L1468.1,990.8 L1471.3,988.9 L1474.4,987.0 L1477.5,985.1 L1480.7,983.2 L1483.8,981.4 L1487.0,979.5 L1490.1,977.6 L1493.3,975.8 L1496.4,973.9 L1499.6,972.0 L1502.7,970.1 L1505.9,968.2 L1509.0,966.3 L1512.2,964.4 L1515.3,962.4 L1518.4,960.5 L1521.5,958.5 L1524.6,956.5 L1527.7,954.5 L1530.7,952.4 L1533.8,950.3 L1536.8,948.2 L1539.8,946.1 L1542.8,943.9 L1545.8,941.7 L1548.7,939.5 L1551.6,937.2 L1554.5,934.9 L1557.4,932.6 L1560.2,930.2 L1563.0,927.7 L1565.7,925.2 L1568.5,922.7 L1571.1,920.1 L1573.8,917.5 L1576.4,914.8 L1578.9,912.1 L1569.0,902.9 L1566.6,905.5 L1564.2,908.0 L1561.7,910.5 L1559.2,912.9 L1556.6,915.3 L1554.0,917.6 L1551.4,919.9 L1548.7,922.2 L1546.0,924.4 L1543.3,926.6 L1540.5,928.8 L1537.7,931.0 L1534.8,933.1 L1532.0,935.1 L1529.1,937.2 L1526.1,939.2 L1523.2,941.2 L1520.2,943.2 L1517.2,945.2 L1514.2,947.1 L1511.2,949.1 L1508.1,951.0 L1505.1,952.9 L1502.0,954.8 L1498.9,956.7 L1495.8,958.6 L1492.7,960.4 L1489.5,962.3 L1486.4,964.2 L1483.2,966.0 L1480.1,967.9 L1476.9,969.8 L1473.8,971.6 L1470.6,973.5 L1467.5,975.4 L1464.3,977.3 L1461.2,979.2 L1458.0,981.1 L1454.9,983.0 L1451.7,984.9 L1448.6,986.9 L1445.5,988.8 L1442.4,990.8 L1439.2,992.8 L1436.0,994.9 L1432.9,997.1 L1429.8,999.3 L1426.7,1001.5 L1423.6,1003.7 L1420.6,1005.9 L1417.6,1008.1 L1414.5,1010.4 L1411.5,1012.7 L1408.5,1015.0 L1405.6,1017.3 L1402.6,1019.6 L1399.6,1021.9 L1396.7,1024.2 L1393.9,1026.4 L1390.9,1028.6 L1388.0,1030.8 L1385.1,1033.1 L1382.2,1035.4 L1379.3,1037.6 L1376.4,1039.9 L1373.6,1042.2 L1370.7,1044.6 L1367.8,1046.9 L1365.0,1049.2 L1362.1,1051.6 L1359.3,1053.9 L1356.5,1056.3 L1353.7,1058.7 L1350.9,1061.1 L1348.1,1063.5 L1345.3,1065.9 L1342.5,1068.3 L1339.7,1070.8 L1336.9,1073.2 L1334.2,1075.7 L1331.4,1078.2 L1328.7,1080.6 L1325.9,1083.1 L1323.2,1085.6 L1320.5,1088.2 L1317.7,1090.7 L1315.0,1093.2 L1312.3,1095.8 L1309.6,1098.3 L1307.0,1100.9 L1304.3,1103.5 L1301.6,1106.1 L1299.0,1108.7 L1296.4,1111.3 L1293.7,1114.0 L1291.1,1116.6 L1288.5,1119.2 L1285.9,1121.9 L1283.4,1124.6 L1280.8,1127.3 L1278.2,1130.0 L1275.7,1132.7 L1273.2,1135.4 L1270.7,1138.1 L1268.2,1140.9 L1265.7,1143.7 L1263.2,1146.4 L1260.8,1149.2 L1258.3,1152.0 L1255.9,1154.8 L1253.5,1157.7 L1251.1,1160.5 L1248.7,1163.3 L1246.4,1166.2 L1244.1,1169.1 L1241.7,1172.0 L1239.4,1174.9 L1237.1,1177.8 L1234.9,1180.7 L1232.6,1183.7 L1230.4,1186.6 L1228.2,1189.6 L1226.0,1192.6 L1223.9,1195.6 L1221.7,1198.6 L1219.6,1201.6 L1217.5,1204.6 L1215.4,1207.7 L1213.3,1210.8 L1211.3,1213.8 L1209.3,1216.9 L1207.3,1220.0 L1205.3,1223.2 L1203.3,1226.3 L1201.4,1229.5 L1199.5,1232.6 L1197.6,1235.8 L1195.8,1239.0 L1193.9,1242.2 L1192.1,1245.4 L1190.3,1248.7 L1188.6,1251.9 L1186.9,1255.2 L1185.2,1258.5 L1183.5,1261.8 L1181.8,1265.1 L1180.2,1268.4 L1178.6,1271.7 L1177.0,1275.1 L1175.5,1278.5 L1174.0,1281.8 L1172.5,1285.2 L1171.0,1288.7 L1169.6,1292.1 L1168.2,1295.5 L1166.8,1299.0 L1165.5,1302.5 L1164.2,1306.0 L1162.9,1309.4 Z" fill="#00FE00"/>
<circle cx="1168.8" cy="1311.6" r="6.25" fill="#00FE00"/>
<circle cx="1574.0" cy="907.5" r="6.75" fill="#00FE00"/>
<path d="M1170.4,1273.5 L1171.8,1270.3 L1173.3,1267.0 L1174.8,1263.8 L1176.3,1260.5 L1177.8,1257.3 L1179.3,1254.1 L1180.9,1251.0 L1182.5,1247.8 L1184.1,1244.7 L1185.7,1241.5 L1187.3,1238.4 L1189.0,1235.3 L1190.7,1232.2 L1192.4,1229.2 L1194.1,1226.1 L1195.8,1223.1 L1197.6,1220.1 L1199.4,1217.1 L1201.2,1214.1 L1203.0,1211.1 L1204.9,1208.2 L1206.7,1205.2 L1208.6,1202.3 L1210.5,1199.4 L1212.4,1196.5 L1214.3,1193.6 L1216.3,1190.7 L1218.3,1187.9 L1220.3,1185.0 L1222.3,1182.2 L1224.3,1179.4 L1226.3,1176.6 L1228.4,1173.8 L1230.5,1171.0 L1232.6,1168.3 L1234.7,1165.5 L1236.8,1162.8 L1238.9,1160.1 L1241.1,1157.4 L1243.3,1154.7 L1245.5,1152.0 L1247.7,1149.4 L1249.9,1146.7 L1252.1,1144.1 L1254.4,1141.5 L1256.7,1138.9 L1258.9,1136.3 L1261.2,1133.7 L1263.6,1131.1 L1265.9,1128.6 L1268.2,1126.0 L1270.6,1123.5 L1273.0,1121.0 L1275.3,1118.5 L1277.7,1116.0 L1280.2,1113.5 L1282.6,1111.0 L1285.0,1108.6 L1287.5,1106.1 L1290.0,1103.7 L1292.4,1101.3 L1294.9,1098.9 L1297.4,1096.5 L1300.0,1094.1 L1302.5,1091.7 L1305.0,1089.3 L1307.6,1087.0 L1310.2,1084.6 L1312.7,1082.3 L1315.3,1080.0 L1317.9,1077.7 L1320.5,1075.4 L1323.2,1073.1 L1325.8,1070.8 L1328.5,1068.6 L1331.1,1066.3 L1333.8,1064.1 L1336.5,1061.8 L1339.2,1059.6 L1341.9,1057.4 L1344.6,1055.2 L1347.3,1053.0 L1350.0,1050.8 L1352.7,1048.7 L1355.5,1046.5 L1358.3,1044.4 L1361.0,1042.3 L1363.8,1040.2 L1366.6,1038.1 L1369.4,1036.1 L1372.2,1034.0 L1375.1,1032.0 L1377.9,1029.9 L1380.7,1027.9 L1383.6,1025.9 L1386.4,1023.8 L1389.3,1021.8 L1392.2,1019.8 L1395.0,1017.9 L1397.9,1015.9 L1400.8,1013.9 L1403.7,1011.9 L1406.6,1010.0 L1409.5,1008.0 L1412.4,1006.1 L1415.3,1004.2 L1418.3,1002.3 L1421.2,1000.4 L1424.1,998.4 L1427.1,996.6 L1430.0,994.7 L1433.0,992.8 L1435.9,990.9 L1438.9,989.1 L1441.9,987.2 L1444.8,985.4 L1447.8,983.5 L1450.8,981.7 L1453.8,979.8 L1456.8,978.0 L1459.8,976.2 L1462.8,974.3 L1465.8,972.5 L1468.8,970.7 L1471.8,968.9 L1474.8,967.1 L1477.8,965.3 L1480.8,963.5 L1483.8,961.7 L1486.8,959.9 L1489.9,958.2 L1492.9,956.4 L1495.9,954.7 L1498.9,952.9 L1502.0,951.2 L1505.0,949.4 L1508.0,947.7 L1511.0,945.9 L1514.0,944.2 L1517.0,942.4 L1520.1,940.7 L1523.1,939.0 L1526.1,937.2 L1529.1,935.5 L1532.2,933.8 L1535.2,932.1 L1538.2,930.4 L1541.2,928.7 L1544.2,927.0 L1547.2,925.3 L1550.3,923.7 L1553.3,922.0 L1556.3,920.3 L1559.3,918.6 L1562.3,917.0 L1565.3,915.3 L1568.3,913.7 L1571.4,912.0 L1574.4,910.4 L1569.1,900.7 L1566.1,902.4 L1563.0,904.0 L1560.0,905.7 L1557.0,907.3 L1554.0,909.0 L1551.0,910.7 L1547.9,912.4 L1544.9,914.0 L1541.9,915.7 L1538.9,917.4 L1535.8,919.1 L1532.8,920.8 L1529.8,922.5 L1526.7,924.2 L1523.7,926.0 L1520.7,927.7 L1517.6,929.4 L1514.6,931.1 L1511.6,932.9 L1508.5,934.6 L1505.5,936.4 L1502.5,938.1 L1499.4,939.9 L1496.4,941.7 L1493.4,943.5 L1490.4,945.3 L1487.4,947.1 L1484.4,948.9 L1481.3,950.7 L1478.3,952.6 L1475.3,954.4 L1472.3,956.2 L1469.3,958.1 L1466.3,959.9 L1463.3,961.8 L1460.3,963.7 L1457.3,965.5 L1454.4,967.4 L1451.4,969.3 L1448.4,971.2 L1445.4,973.1 L1442.5,975.0 L1439.5,976.9 L1436.5,978.8 L1433.6,980.7 L1430.6,982.6 L1427.7,984.5 L1424.7,986.5 L1421.8,988.4 L1418.8,990.3 L1415.9,992.3 L1413.0,994.3 L1410.0,996.2 L1407.1,998.2 L1404.2,1000.2 L1401.3,1002.2 L1398.4,1004.2 L1395.5,1006.2 L1392.6,1008.3 L1389.8,1010.3 L1386.9,1012.4 L1384.0,1014.4 L1381.2,1016.5 L1378.3,1018.5 L1375.5,1020.6 L1372.6,1022.7 L1369.8,1024.8 L1367.0,1026.9 L1364.2,1029.0 L1361.4,1031.2 L1358.6,1033.3 L1355.8,1035.5 L1353.0,1037.6 L1350.3,1039.8 L1347.5,1042.0 L1344.7,1044.2 L1342.0,1046.4 L1339.2,1048.6 L1336.5,1050.8 L1333.8,1053.0 L1331.0,1055.3 L1328.3,1057.5 L1325.6,1059.8 L1322.9,1062.1 L1320.3,1064.4 L1317.6,1066.7 L1315.0,1069.0 L1312.3,1071.3 L1309.7,1073.6 L1307.1,1076.0 L1304.4,1078.3 L1301.8,1080.7 L1299.3,1083.1 L1296.7,1085.5 L1294.1,1087.9 L1291.6,1090.3 L1289.0,1092.7 L1286.5,1095.2 L1284.0,1097.6 L1281.5,1100.1 L1279.0,1102.6 L1276.5,1105.0 L1274.1,1107.6 L1271.6,1110.1 L1269.2,1112.6 L1266.8,1115.1 L1264.4,1117.7 L1262.0,1120.2 L1259.6,1122.8 L1257.3,1125.4 L1254.9,1128.0 L1252.6,1130.6 L1250.3,1133.3 L1248.0,1135.9 L1245.7,1138.6 L1243.4,1141.2 L1241.1,1143.9 L1238.9,1146.6 L1236.7,1149.3 L1234.5,1152.1 L1232.3,1154.8 L1230.1,1157.6 L1227.9,1160.3 L1225.8,1163.1 L1223.7,1165.9 L1221.6,1168.7 L1219.5,1171.6 L1217.4,1174.4 L1215.3,1177.3 L1213.3,1180.1 L1211.3,1183.0 L1209.3,1185.9 L1207.3,1188.8 L1205.3,1191.8 L1203.4,1194.7 L1201.5,1197.7 L1199.5,1200.6 L1197.7,1203.6 L1195.8,1206.6 L1193.9,1209.7 L1192.1,1212.7 L1190.3,1215.8 L1188.5,1218.8 L1186.7,1221.9 L1185.0,1225.0 L1183.2,1228.1 L1181.5,1231.3 L1179.8,1234.4 L1178.2,1237.6 L1176.5,1240.8 L1174.9,1244.0 L1173.3,1247.2 L1171.7,1250.4 L1170.1,1253.7 L1168.6,1256.9 L1167.0,1260.2 L1165.5,1263.5 L1164.1,1266.8 L1162.6,1270.1 Z" fill="#00FE00"/>
<circle cx="1166.5" cy="1271.8" r="4.25" fill="#00FE00"/>
<circle cx="1571.7" cy="905.5" r="5.50" fill="#00FE00"/>
</svg>
</body></html>
